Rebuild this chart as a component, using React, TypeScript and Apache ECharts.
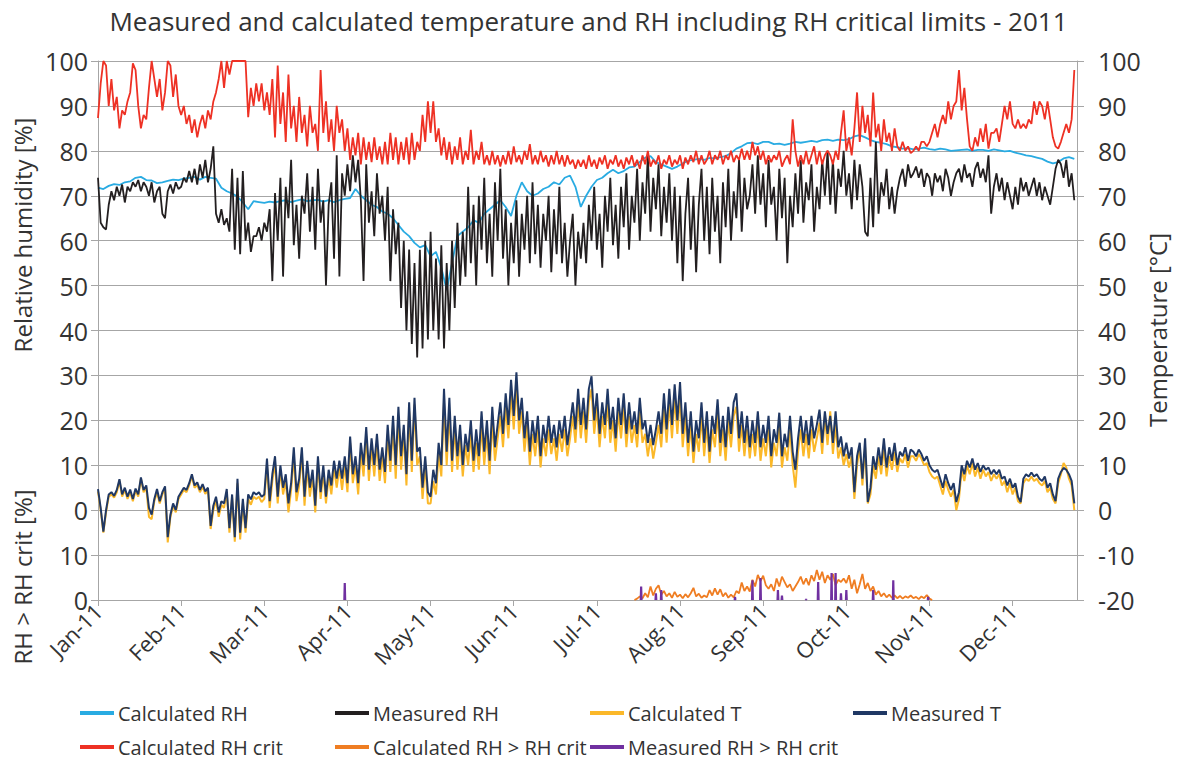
import React, { useEffect, useRef } from 'react';
import * as echarts from 'echarts';

// ---------- tick labels ----------
const monthLabels = ['Jan-11', 'Feb-11', 'Mar-11', 'Apr-11', 'May-11', 'Jun-11', 'Jul-11', 'Aug-11', 'Sep-11', 'Oct-11', 'Nov-11', 'Dec-11'];
const TICK_DAYS = 31;
const EXCEED_BASE = -20; // "RH > RH crit" strip sits at the bottom of the shared scale

// ---------- Calculated RH (every 2 days) ----------
const CALC_RH_STEP = 2;
const calcRH = [
  71.8, 71.5, 72.2, 72.6, 72.4, 73, 73.2, 74, 74.2, 73.5, 73.4, 72.8, 73, 73.3, 73.6, 73.5,
  73.8, 74, 74.2, 73.6, 74.2, 74, 73.8, 71.8, 71, 70.5, 69.8, 68.5, 67, 68.8,
  68.6, 68.4, 68.7, 68.5, 68.8, 69, 68.6, 68.9, 69.2, 68.8, 69, 69.1, 68.7, 69, 68.6,
  69, 69.3, 69.5, 71.5, 70, 69, 68, 67.5, 66.5, 66, 65, 63.5, 62, 61, 59.5,
  58.5, 59, 56.5, 57.5, 54, 49, 55, 61, 62, 63, 64.5, 64, 66, 67, 68,
  69, 67.5, 65.5, 70, 73, 71, 70, 70.5, 71.5, 72, 73, 72.5, 74, 74.5, 72,
  67.5, 70, 72, 73.5, 74, 75, 75.8, 75, 75.5, 76.3, 76.5, 77.5, 78.5, 78.8, 77.5,
  77, 76.5, 76, 76.5, 77.2, 77.8, 78, 78.2, 78, 78.4, 78.3, 78.6, 78.8, 79.5, 80.5,
  81, 81.7, 81.8, 81.5, 82, 82, 81.5, 81.6, 81.3, 81.6, 82, 81.8, 82, 82.2, 82,
  82.4, 82.5, 82.2, 82.5, 82.4, 82.6, 83.2, 83.5, 83, 82.4, 82, 81.8, 81.5, 81, 80.8,
  80.5, 80.6, 80.3, 80.5, 80.7, 80.4, 80.2, 80.5, 80.3, 80, 80.1, 80.2, 80.3, 80, 80.2,
  80.2, 80, 80.3, 80.1, 79.9, 80, 79.6, 79.3, 79, 78.8, 78.5, 78.2, 77.6, 77.2, 77.5, 78.3, 78.6, 78.2,
];

// ---------- Measured RH (daily) ----------
const measRH = [
  // Jan
  74, 64, 63, 62.5, 68, 71, 69, 72, 70, 72.5, 68.5, 72, 71, 73, 72, 73.5, 71, 73, 72, 70, 73, 68.5, 71, 72, 66, 65, 71, 72.5, 70.5, 73, 71.5,
  // Feb
  72, 74, 73, 75.5, 73, 76, 72.5, 77, 74, 78, 73, 76, 81, 66, 64, 67, 63.5, 65, 62, 76, 58, 74, 57, 75.5, 60, 64, 57.5, 61,
  // Mar
  61, 63, 60, 64, 62, 67, 51, 70.6, 60, 74, 52, 72, 65, 78, 59, 68, 56, 70, 66, 75, 62, 72, 58, 76, 64, 69, 50, 68, 73, 56, 79,
  // Apr
  52, 75, 70, 77, 71, 79, 73, 78, 69, 51, 77, 64, 71, 61, 75, 66, 70, 60, 72, 51, 67, 57, 64, 45, 60, 40, 58, 37, 55, 34,
  // May
  58, 36, 60, 38, 62, 40, 56, 38, 59, 36, 55, 40, 60, 45, 64, 50, 62, 52, 72, 55, 68, 50, 70, 58, 74, 55, 66, 52, 73, 60, 76,
  // Jun
  56, 67, 50, 64, 55, 69, 52, 66, 58, 70, 55, 73, 57, 68, 54, 66, 60, 70, 53, 67, 57, 72, 55, 64, 52, 60, 66, 50, 62, 56,
  // Jul
  64, 55, 68, 60, 72, 58, 66, 54, 70, 62, 74, 59, 68, 56, 72, 63, 75, 58, 70, 64, 76, 60, 73, 66, 79, 62, 74, 67, 77, 61, 72,
  // Aug
  64, 75, 60, 72, 55, 70, 51, 66, 74, 58, 70, 53, 68, 76, 60, 72, 57, 74, 62, 70, 55, 73, 63, 76, 60, 71, 65, 78, 62, 74, 67,
  // Sep
  70, 77, 66, 79, 68, 75, 63, 78, 68, 72, 60, 76, 65, 74, 55, 70, 63, 75, 66, 78, 64, 73, 69, 77, 62, 72, 67, 78, 70, 80,
  // Oct
  68, 78, 66, 76, 72, 80, 70, 75, 67, 78, 69, 77, 72, 62, 61, 74, 63, 82, 66, 73, 70, 76, 67, 72, 66, 71, 74, 76, 72, 77, 74,
  // Nov
  75, 76.5, 74, 76, 72, 75, 74, 70, 75, 73, 74.5, 71, 76, 74, 70, 73, 75, 76, 73, 77, 74, 75, 72, 76, 77.5, 74, 76, 73, 79, 66,
  // Dec
  72, 75, 71, 74, 69, 73, 70, 67, 72, 68, 74, 71, 73, 70, 72, 74, 70, 73, 69, 72, 70, 68, 72, 76, 78, 77, 74, 78, 72, 75, 69,
];

// ---------- Calculated RH crit (daily) ----------
const calcRHcrit = [
  // Jan
  87.3, 95, 100, 99, 90, 96, 89, 92, 85, 89, 88, 91, 93, 99.5, 98, 90, 85, 88, 87, 94, 100, 96, 92, 96, 89, 93, 100, 99, 92, 97, 90,
  // Feb
  88, 90, 86, 88, 84, 87, 83, 86, 88, 85, 89, 87, 91, 93, 96, 100, 94, 100, 97, 100, 100, 100, 100, 100, 100, 87.5, 94, 90,
  // Mar
  95, 91, 95, 89, 93, 88, 96, 83, 99, 86, 93, 82, 97, 85, 90, 82, 92, 84, 88, 81, 90, 84, 86, 80, 98, 84, 91, 82, 87, 80, 90,
  // Apr
  84, 87, 80, 85, 78, 83, 79, 84, 77, 83, 78, 82, 77.5, 83, 78, 81, 77, 82, 77, 84, 78, 83, 77, 82, 78, 83, 77, 84, 78, 82,
  // May
  80, 88, 82, 91, 84, 91, 82, 85, 79, 83, 78, 82, 77, 81, 78, 83, 77, 80, 78, 84.7, 77, 80, 78, 82, 77, 79, 76.8, 80, 77, 79, 76.5,
  // Jun
  79, 77, 80, 77, 81, 77.5, 79, 77, 80, 78, 81.5, 77, 79, 77, 80, 77.5, 79, 76.5, 79, 77, 80, 77, 79, 76.5, 79, 77, 78, 76, 78, 76.5,
  // Jul
  78, 76, 79, 76.5, 78, 76, 78.5, 77, 79, 76, 78, 77, 79, 76.5, 78, 76, 78.5, 77, 79, 76.5, 78, 76, 79, 77, 80, 76.5, 78, 77, 79, 76, 78,
  // Aug
  77, 79, 76.5, 78, 77, 79, 76, 78.5, 77, 79, 77.5, 80, 77, 79, 77, 78, 80, 77, 79, 78, 80, 77, 79, 78, 80, 77.5, 79, 78, 80.5, 78, 80,
  // Sep
  78, 82, 79, 81, 78, 80, 77, 79, 77.5, 79, 78, 80, 76.5, 78, 79, 77, 87, 80, 76.5, 79, 77, 80, 77, 79, 81, 77, 80, 77, 79, 80,
  // Oct
  79, 77, 80, 78, 84, 89, 80, 83, 79, 85, 93, 82, 90, 84, 88, 81, 93, 83, 86, 80, 87, 82, 84, 80, 85, 81, 80, 82, 80, 81, 79.5,
  // Nov
  80, 81, 80, 82, 82, 81, 82, 84, 86, 83, 86, 88, 86, 91, 87, 90, 91, 98, 89, 94, 87, 81, 80, 83, 81, 85, 82, 86, 80.5, 84,
  // Dec
  84, 85, 82, 86, 90, 87, 91, 86, 85, 87, 85, 86, 85, 87, 86, 91, 88, 91, 90, 87, 91, 87, 83, 81, 80.5, 82, 84, 86, 84, 87, 98,
];

// ---------- Calculated T (daily) ----------
const calcT = [
  // Jan
  4.2, 0, -5, -0.5, 3, 3.5, 2.8, 4, 6.5, 3, 4.5, 2.5, 4, 2, 4.3, 3, 7, 4, 5, -1.5, -2, 2, 4, 1.5, 3.5, 4.8, -7.2, -1.5, 1, -0.5, 2.5,
  // Feb
  3.5, 4.5, 4, 5.5, 7.6, 5, 5.6, 4, 5.2, 3.6, 4.5, -4.2, 0, 2.2, -1.5, 1.2, 0.5, 4, -5, 2.8, -7, 6, -6.5, 1.5, -5, 2.5, 1.2, 3,
  // Mar
  2.5, 3, 1.8, 2.5, 10, 0.5, 6.5, 10.5, 1.5, 9, 3.5, 6.5, -0.5, 4.5, 12, 2, 5.5, 12.5, 1, 9.5, 3, 7.5, -0.5, 10.5, 2.5, 8.5, 1.5, 7.5, 3.5, 9.5, 5,
  // Apr
  9.5, 4.5, 10, 4, 15, 6, 10, 3.5, 13, 7.5, 16.5, 6.5, 14, 7.5, 15, 6.5, 12, 6, 17, 8.5, 19, 7, 21, 9, 17, 5.5, 22, 8.5, 23.5, 10,
  // May
  12, 2.5, 10, 1.5, 1.5, 6.5, 3.5, 12.5, 7.5, 24, 10, 22, 8.5, 18.5, 9, 16, 7.5, 14.5, 10, 17, 8.5, 15, 9, 19, 10, 17, 8, 20, 11, 16, 21,
  // Jun
  14, 23, 16, 26, 18, 28, 17, 22, 13, 19, 10, 17, 12, 18, 9.5, 16, 12, 18, 12.5, 16, 11, 17, 13, 18, 12, 16, 21, 15, 24, 16,
  // Jul
  22, 15, 24, 27, 17, 23, 14, 21, 16, 24, 15, 20, 13, 22, 16, 23, 14, 21, 15, 19, 14, 22, 15, 17, 12, 16, 11.5, 15, 19, 14, 23,
  // Aug
  15, 24, 16, 25, 17, 25.5, 14, 21, 12, 19, 10.5, 17, 13, 21, 12, 19, 10.5, 18, 14, 21.5, 12, 18, 11, 20, 14, 21, 23, 13, 19, 12, 18,
  // Sep
  11.5, 17, 12, 19, 11, 16, 12, 18.5, 9.5, 15, 12, 19, 9.5, 14, 11, 18, 10, 5, 13, 18, 12, 17, 11.5, 18, 13, 16, 19.5, 12.5, 21, 14.5,
  // Oct
  22, 12.5, 19, 11.5, 14, 10, 12.5, 9.5, 12, 2.5, 10, 14, 5.5, 14, 1.5, 3.5, 10, 7, 12, 8, 14, 7.5, 12, 9, 13, 8.5, 11.5, 10.5, 12.5, 9.5, 12,
  // Nov
  12, 11, 12.5, 11.5, 10, 10.5, 8.5, 7.5, 7, 7.5, 5.5, 3.5, 6.5, 4.5, 3, 4.5, 0, 2.5, 9, 6.5, 10, 8, 10.5, 7.5, 9.5, 7, 9, 7.5, 8.5, 6.5,
  // Dec
  8, 7, 8, 5.5, 6.5, 4, 6, 3.5, 5, 2, 1.5, 6, 7, 6.5, 7.5, 6.5, 7, 6, 5.5, 6.5, 4, 5, 2.5, 1.5, 6, 8, 10.5, 9.5, 7, 5.5, 0,
];

// ---------- Measured T (daily) ----------
const measT = [
  // Jan
  4.7, 0.5, -4.8, 0, 3.5, 4, 3.2, 4.5, 6.9, 3.5, 5, 3, 4.6, 2.5, 4.8, 3.5, 7.3, 4.5, 5.5, 0.5, -1, 2.5, 4.7, 2, 4, 5.3, -6, -1, 1.5, 0, 3,
  // Feb
  4, 5, 4.5, 6, 8, 5.5, 6.2, 4.5, 5.8, 4.2, 5, -3.5, 1, 3, -0.5, 2, 1.5, 4.7, -4, 3.5, -6, 7, -5, 2.5, -4, 3.5, 2.4, 4,
  // Mar
  3.5, 4, 3, 3.5, 11.5, 2, 8, 12, 3, 10, 5, 8, 1.5, 6, 14, 4, 7, 14, 3, 11, 5, 9, 1, 12, 4, 10, 3, 9, 5.5, 11, 7,
  // Apr
  11, 7, 12, 6, 16.4, 8, 12, 6, 15, 10, 18.5, 9, 16, 10, 17, 9, 14, 8.5, 19, 11, 21, 10, 23, 12, 19, 8, 24, 11, 25, 13,
  // May
  14, 5, 12, 4, 3, 9, 6, 15, 10, 27, 13, 25, 11, 21, 12, 19, 10, 17, 13, 20, 11, 18, 12, 22, 13, 20, 11, 23, 14, 19, 24,
  // Jun
  17, 26, 19, 29, 21, 30.7, 20, 25, 16, 22, 13, 20, 15, 21, 12, 19, 15, 21, 15, 19, 14, 20, 16, 21, 14.5, 19, 24, 18, 27, 19,
  // Jul
  25, 18, 27, 29.8, 20, 26, 17, 24, 19, 27, 18, 23, 16, 25, 19, 26, 17, 24, 18, 22, 17, 25, 18, 20, 15, 19, 14.5, 18, 22, 17, 26,
  // Aug
  18, 27, 19, 28, 20, 28.5, 17, 24, 15, 22, 13, 20, 16, 24, 15, 22, 13, 21, 17, 24.7, 15, 21, 14, 23, 17, 24, 26, 16, 22, 15, 21,
  // Sep
  14, 20, 15, 22, 14, 19, 15, 21, 12, 18, 15, 21.7, 12, 17, 14, 21, 13, 9, 16, 21, 15, 20, 14.5, 21, 16, 19, 22.4, 15, 22, 17,
  // Oct
  21, 15, 22, 14, 16.4, 12, 15, 11.5, 14, 4, 12, 15, 7, 16, 1.8, 5, 12, 9, 14, 10, 16, 9.5, 14, 11, 15, 10, 13, 12, 14, 11, 13.5,
  // Nov
  13, 12, 13.5, 12.5, 11, 12, 10, 9, 8.5, 9, 7, 5, 8, 6, 4.5, 6, 1.8, 4, 10, 8, 11, 9.5, 11.5, 9, 10.5, 8.5, 10, 9, 9.5, 8,
  // Dec
  9, 8, 9, 7, 7.5, 5.5, 7, 5, 6, 3, 1.8, 7, 8, 7.5, 8.4, 7.5, 8, 7, 6.5, 7.5, 5, 6, 3.5, 2, 7, 8.5, 9.4, 9, 8, 6.5, 1.5,
];

// ---------- Calculated RH > RH crit (daily, from day 200) ----------
const CALC_EXCEED_START = 200;
const calcExceed = [
  0, 0.3, 0.8, 0.4, 1.5, 0.6, 3, 1, 2.5, 3.3,
  1.2, 2, 0.8, 1.5, 0.5, 1.8, 0.7, 1.2, 0.4, 1.3,
  0.6, 1.5, 2.7, 0.8, 1.4, 0.5, 1, 0.6, 2.2, 1,
  2.6, 1.2, 2.4, 0.8, 1.6, 0.5, 1.2, 0.6, 2, 1.5,
  3.9, 2, 3, 1.9, 4.5, 3, 5.6, 4.2, 5.4, 3.3,
  2.5, 3.5, 2, 4.8, 3, 5.2, 4, 2.8, 3.5, 2,
  3, 4, 5.2, 3.5, 4.8, 3.3, 5.5, 4.2, 6.7, 4.5,
  6.3, 3.8, 5.5, 4.5, 5.8, 3.3, 4.5, 4, 4.8, 3.8,
  5.5, 2.5, 4.5, 1.5, 3.5, 5.8, 2.5, 3.8, 2, 3,
  1.2, 2, 0.8, 1.5, 0.6, 1.2, 0.5, 1, 0.4, 0.9,
  0.3, 0.8, 0.5, 1, 0.4, 0.7, 0.2, 0.8, 0.4, 1.1,
  0.3, 0,
];

// ---------- Measured RH > RH crit (isolated spikes) ----------
const measExceedDays = [92, 202.5, 208, 210, 237.5, 244, 247, 253.5, 255, 264, 268.5, 273.5, 275, 277, 279, 289, 296.5, 309.5];
const measExceedVals = [3.8, 3.0, 1.5, 2.2, 0.7, 4.4, 4.9, 2.2, 1.0, 0.2, 4.0, 6.0, 6.0, 1.5, 2.2, 2.2, 4.4, 0.7];

const FONT = 'Open Sans';
const TEXT = '#333333';
const GRID = '#a6a6a6';

const C_CALC_RH = '#29abe2';
const C_MEAS_RH = '#231f20';
const C_CALC_T = '#fbb829';
const C_MEAS_T = '#203864';
const C_CRIT = '#ee3124';
const C_CALC_EX = '#ef7d22';
const C_MEAS_EX = '#7030a0';

function buildOption(): echarts.EChartsOption {
  const daily = (arr: number[]) => arr.map((v, i) => [i, v]);
  const purple: any[] = [];
  measExceedDays.forEach((d, i) => {
    purple.push([d - 0.15, EXCEED_BASE], [d, measExceedVals[i] + EXCEED_BASE], [d + 0.15, EXCEED_BASE], [d + 0.2, '-']);
  });
  const line = (name: string, data: any[], color: string, width: number) => ({
    name,
    type: 'line' as const,
    data,
    yAxisIndex: 0,
    symbol: 'none',
    showSymbol: false,
    connectNulls: false,
    silent: true,
    lineStyle: { color, width },
    itemStyle: { color },
  });

  const legendItem = (name: string, left: number, top: number) => ({
    data: [name],
    left,
    top,
    icon: 'rect',
    itemWidth: 34,
    itemHeight: 4,
    padding: 0,
    selectedMode: false,
    textStyle: { fontSize: 20, color: TEXT, fontFamily: FONT, padding: [0, 0, 0, -1] },
  });

  const axisName = (text: string, x: number, y: number) => ({
    type: 'text',
    x,
    y,
    rotation: Math.PI / 2,
    silent: true,
    style: { text, fontSize: 24, fontFamily: FONT, fill: TEXT, align: 'center', verticalAlign: 'middle', textAlign: 'center', textVerticalAlign: 'middle' } as any,
  });

  return {
    animation: false,
    backgroundColor: '#ffffff',
    textStyle: { fontFamily: FONT },
    title: {
      text: 'Measured and calculated temperature and RH including RH critical limits - 2011',
      left: 'center',
      top: 3,
      textStyle: { fontSize: 26, fontWeight: 'normal', color: TEXT, fontFamily: FONT },
    },
    legend: [
      legendItem('Calculated RH', 80, 703),
      legendItem('Measured RH', 335, 703),
      legendItem('Calculated T', 590, 703),
      legendItem('Measured T', 853, 703),
      legendItem('Calculated RH crit', 80, 737),
      legendItem('Calculated RH > RH crit', 335, 737),
      legendItem('Measured RH > RH crit', 590, 737),
    ],
    grid: { left: 98, top: 61, width: 979, height: 539, containLabel: false },
    xAxis: {
      type: 'value',
      min: 0,
      max: 365,
      interval: TICK_DAYS,
      axisLine: { show: true, onZero: false, lineStyle: { color: GRID, width: 1 } },
      axisTick: { show: true, length: 6, lineStyle: { color: GRID } },
      splitLine: { show: false },
      axisLabel: {
        rotate: 45,
        margin: 7,
        fontSize: 22,
        color: TEXT,
        fontFamily: FONT,
        showMaxLabel: false,
        formatter: (v: number) => {
          const i = Math.round(v / TICK_DAYS);
          return Math.abs(v - i * TICK_DAYS) < 1e-6 && i < monthLabels.length ? monthLabels[i] : '';
        },
      },
    },
    yAxis: [
      {
        type: 'value',
        position: 'left',
        min: -20,
        max: 100,
        interval: 10,
        axisLine: { show: true, lineStyle: { color: GRID, width: 1 } },
        axisTick: { show: true, length: 7, lineStyle: { color: GRID } },
        splitLine: { show: true, lineStyle: { color: GRID, width: 1 } },
        axisLabel: {
          fontSize: 25,
          color: TEXT,
          fontFamily: FONT,
          margin: 10,
          formatter: (v: number) => String(v < 0 ? v - EXCEED_BASE : v),
        },
      },
      {
        type: 'value',
        position: 'right',
        min: -20,
        max: 100,
        interval: 10,
        axisLine: { show: true, lineStyle: { color: GRID, width: 1 } },
        axisTick: { show: true, length: 7, lineStyle: { color: GRID } },
        splitLine: { show: false },
        axisLabel: { fontSize: 25, color: TEXT, fontFamily: FONT, margin: 21 },
      },
    ],
    graphic: [
      axisName('Relative humidity [%]', 22, 235),
      axisName('RH > RH crit [%]', 22, 577),
      axisName('Temperature [°C]', 1157, 330),
    ] as any,
    series: [
      line('Calculated RH', calcRH.map((v, i) => [i * CALC_RH_STEP, v]), C_CALC_RH, 1.8),
      line('Measured RH', daily(measRH), C_MEAS_RH, 1.8),
      line('Calculated T', daily(calcT), C_CALC_T, 2),
      line('Measured T', daily(measT), C_MEAS_T, 2),
      line('Calculated RH crit', daily(calcRHcrit), C_CRIT, 1.8),
      line('Calculated RH > RH crit', calcExceed.map((v, i) => [CALC_EXCEED_START + i, v + EXCEED_BASE]), C_CALC_EX, 1.8),
      line('Measured RH > RH crit', purple, C_MEAS_EX, 2.2),
    ] as any,
  };
}

export default function App() {
  const ref = useRef<HTMLDivElement>(null);
  useEffect(() => {
    if (!ref.current) return;
    const chart = echarts.init(ref.current, null, { renderer: 'svg' });
    chart.setOption(buildOption());
    return () => chart.dispose();
  }, []);
  return (
    <div
      ref={ref}
      style={{ position: 'absolute', left: 0, top: 0, width: 1177, height: 765, background: '#ffffff' }}
    />
  );
}
